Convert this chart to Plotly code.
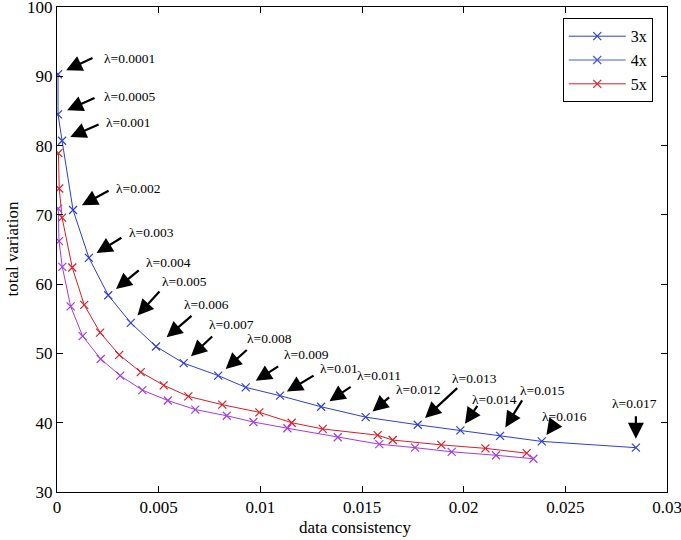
import plotly.graph_objects as go

# ---- data ----
x_3x = [0.00005, 0.00005, 0.00025, 0.00079, 0.00157, 0.00252, 0.00363, 0.00487, 0.00623, 0.00793,
        0.00928, 0.01097, 0.01299, 0.01518, 0.01774, 0.01984, 0.02179, 0.02384, 0.02847]
y_3x = [90.3, 84.5, 80.7, 70.7, 63.8, 58.4, 54.4, 51.0, 48.6, 46.8,
        45.1, 43.9, 42.3, 40.8, 39.7, 38.9, 38.1, 37.3, 36.4]

x_5x = [0.00007, 0.00011, 0.00025, 0.00075, 0.00134, 0.00212, 0.00306, 0.00412, 0.00525, 0.00646,
        0.00813, 0.00995, 0.01154, 0.01307, 0.01577, 0.01651, 0.0189, 0.02107, 0.0231]
y_5x = [78.9, 73.8, 69.6, 62.4, 57.0, 53.0, 49.8, 47.3, 45.4, 43.8,
        42.6, 41.5, 40.0, 39.1, 38.2, 37.5, 36.8, 36.3, 35.6]

x_extra = [0.00006, 0.0001, 0.00026, 0.00067, 0.00126, 0.00215, 0.00311, 0.0042, 0.00545, 0.0068,
           0.00835, 0.00966, 0.01133, 0.01381, 0.01585, 0.01761, 0.01941, 0.02159, 0.02343]
y_extra = [70.9, 66.2, 62.5, 56.8, 52.5, 49.2, 46.8, 44.7, 43.2, 41.9,
           41.0, 40.1, 39.2, 37.9, 36.9, 36.4, 35.8, 35.3, 34.8]

lambdas = ["0.0001", "0.0005", "0.001", "0.002", "0.003", "0.004", "0.005", "0.006", "0.007", "0.008",
           "0.009", "0.01", "0.011", "0.012", "0.013", "0.014", "0.015", "0.016", "0.017"]

x_ticks = [0, 0.005, 0.01, 0.015, 0.02, 0.025, 0.03]
x_ticklabels = ["0", "0.005", "0.01", "0.015", "0.02", "0.025", "0.03"]
y_ticks = [30, 40, 50, 60, 70, 80, 90, 100]

# ---- annotation layout (pixel offsets: arrow tail, standoff, text offset) ----
arrow_dx = [36, 38, 38, 37, 34, 32, 30, 37, 30, 30, 34, 35, 31, 25, 41, 18, 23, 13, 0]
arrow_dy = [-17, -17, -17, -20, -21, -26, -33, -32, -28, -27, -22, -21, -21, -21, -38, -26, -37, -18, -33]
arrow_stand = [9, 10, 9, 10, 9, 10, 10, 14, 10, 10, 12, 8, 10, 9, 10, 8, 10, 8, 9]
text_dx = [44, 44, 42, 41, 38, 36, 29, 26, 23, 27, 36, 38, 34, 28, 32, 10, 18, -2, -26]
text_dy = [-16, -18, -18, -22, -25, -33, -41, -42, -39, -37, -33, -27, -31, -28, -46, -31, -45, -25, -44]

FONT = "Liberation Serif"
FS = 17
BLUE = "#2f3fd4"
BLUE2 = "#4559e2"
RED = "#d8202a"
PURPLE = "#a43ce6"

fig = go.Figure()


def mk(c):
    return dict(symbol="x-thin", size=8, color=c, line=dict(width=1.2, color=c))


fig.add_trace(go.Scatter(x=x_3x, y=y_3x, mode="lines+markers", name="3x",
                         line=dict(color=BLUE, width=1), marker=mk(BLUE)))
fig.add_trace(go.Scatter(x=[None], y=[None], mode="lines+markers", name="4x",
                         line=dict(color=BLUE2, width=1), marker=mk(BLUE2)))
fig.add_trace(go.Scatter(x=x_5x, y=y_5x, mode="lines+markers", name="5x",
                         line=dict(color=RED, width=1), marker=mk(RED)))
fig.add_trace(go.Scatter(x=x_extra, y=y_extra, mode="lines+markers", name="", showlegend=False,
                         line=dict(color=PURPLE, width=1), marker=mk(PURPLE)))

anns = []
for i, lam in enumerate(lambdas):
    anns.append(dict(x=x_3x[i], y=y_3x[i], xref="x", yref="y", text="", showarrow=True,
                     ax=arrow_dx[i], ay=arrow_dy[i], axref="pixel", ayref="pixel",
                     arrowhead=2, arrowsize=1.45, arrowwidth=2.2, arrowcolor="black",
                     standoff=arrow_stand[i]))
    anns.append(dict(x=x_3x[i], y=y_3x[i], xref="x", yref="y", text="λ=" + lam, showarrow=False,
                     xanchor="left", yanchor="middle", xshift=text_dx[i], yshift=-text_dy[i],
                     font=dict(family=FONT, size=13.5, color="black")))

# axis titles
anns.append(dict(x=0.4885, y=0, xref="paper", yref="paper", text="data consistency", showarrow=False,
                 xanchor="center", yanchor="middle", yshift=-35, font=dict(family=FONT, size=FS)))
anns.append(dict(x=0, y=0.5, xref="paper", yref="paper", text="total variation", showarrow=False,
                 textangle=-90, xanchor="center", yanchor="middle", xshift=-45,
                 font=dict(family=FONT, size=FS)))

fig.update_layout(
    width=681, height=540,
    margin=dict(l=57, r=14, t=7, b=48),
    paper_bgcolor="white", plot_bgcolor="white",
    font=dict(family=FONT, size=FS, color="black"),
    showlegend=True,
    legend=dict(x=0.9766, y=0.9767, xanchor="right", yanchor="top",
                bordercolor="black", borderwidth=1, bgcolor="white",
                font=dict(family=FONT, size=16), itemwidth=57,
                tracegroupgap=0),
    annotations=anns,
)
fig.update_xaxes(range=[0, 0.03], tickvals=x_ticks, ticktext=x_ticklabels, automargin=False,
                 showgrid=False, zeroline=False, showline=True, linecolor="black", linewidth=1,
                 mirror="ticks", ticks="inside", ticklen=6, tickcolor="black",
                 ticklabeloverflow="allow", tickfont=dict(family=FONT, size=FS))
fig.update_yaxes(range=[30, 100], tickvals=y_ticks, automargin=False,
                 showgrid=False, zeroline=False, showline=True, linecolor="black", linewidth=1,
                 mirror="ticks", ticks="inside", ticklen=6, tickcolor="black",
                 ticklabeloverflow="allow", tickfont=dict(family=FONT, size=FS))

fig.write_html("out.html", config={"displayModeBar": False})

# remove the browser's default 8px body margin so the figure sits at the page origin
with open("out.html", "r", encoding="utf-8") as f:
    html = f.read()
html = html.replace("<body>", '<body style="margin:0;">', 1)
with open("out.html", "w", encoding="utf-8") as f:
    f.write(html)
